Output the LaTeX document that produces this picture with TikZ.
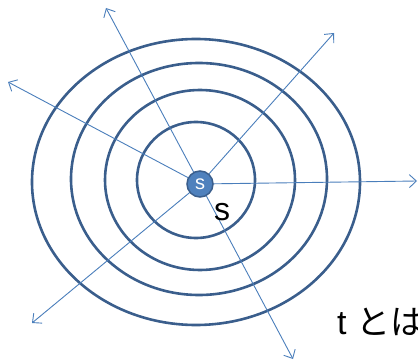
\documentclass[tikz,border=0pt]{standalone}
\usepackage{fontspec}
\setmainfont{Liberation Sans}
\newfontfamily\jpfont{Noto Sans CJK JP}
\usetikzlibrary{arrows.meta}
\definecolor{ringc}{HTML}{3A5E8C}
\definecolor{rayc}{HTML}{4A7EBB}
\definecolor{dotc}{HTML}{4F81BD}
\tikzset{
  ring/.style={draw=ringc, line width=2.6pt},
  ray/.style={draw=rayc, line width=0.9pt, -{Straight Barb[length=7pt,width=13pt]}},
  dot/.style={circle, fill=dotc, draw=ringc, line width=1.5pt, minimum size=26pt, inner sep=0pt, font=\fontsize{20}{20}\selectfont, text=white},
  lbl/.style={font=\fontsize{32}{32}\selectfont, inner sep=0pt},
  tlbl/.style={font=\fontsize{34}{34}\selectfont, inner sep=0pt}
}
\begin{document}
\begin{tikzpicture}[x=1pt,y=-1pt]
\useasboundingbox (0,0) rectangle (418,361);
\draw[ring] (196,180) ellipse [x radius=59, y radius=58];
\draw[ring] (200,180) ellipse [x radius=95, y radius=90];
\draw[ring] (199,179) ellipse [x radius=128, y radius=116];
\draw[ring] (196,182) ellipse [x radius=164, y radius=143];
\coordinate (c) at (200,184);
\coordinate (e1) at (106,8);
\coordinate (e2) at (334,33);
\coordinate (e3) at (8,82);
\coordinate (e4) at (417,181);
\coordinate (e5) at (32,323);
\coordinate (e6) at (293,359);
\foreach \e in {e1,e2,e3,e4,e5,e6} \draw[ray] (c) -- (\e);
\node[dot] (s) at (c) {s};
\node[lbl, anchor=base west] (sl) at (214,220) {s};
\node[tlbl, anchor=base west] (t) at (337,334) {t \jpfont とは};
\end{tikzpicture}
\end{document}
